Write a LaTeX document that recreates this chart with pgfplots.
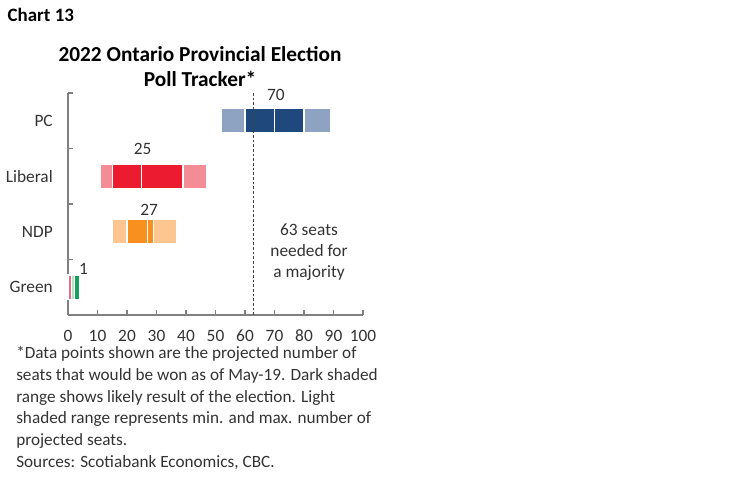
\documentclass[border=0pt]{standalone}
\usepackage{fontspec}
\setmainfont{Carlito}
\usepackage{pgfplots}
\pgfplotsset{compat=1.18}
\definecolor{pcdark}{HTML}{1F497D}
\definecolor{pclight}{HTML}{8EA3C1}
\definecolor{libdark}{HTML}{ED1B2F}
\definecolor{liblight}{HTML}{F48C95}
\definecolor{ndpdark}{HTML}{F7901E}
\definecolor{ndplight}{HTML}{FDC690}
\definecolor{grndark}{HTML}{17A05D}
\definecolor{grnlight}{HTML}{B7E0C8}
\definecolor{grnpink}{HTML}{E96A85}
\definecolor{axisgray}{HTML}{808080}
\definecolor{txt}{HTML}{333333}

\begin{document}
\begin{tikzpicture}[x=0.75pt,y=-0.75pt]
\path[use as bounding box] (0,0) rectangle (750,483);
\coordinate (O) at (68,315);

\node[anchor=west,font=\fontsize{14.2}{16}\selectfont\bfseries] at (3,15) {Chart 13};
\node[align=center,font=\fontsize{16}{18.75}\selectfont\bfseries] at (200,67)
  {2022 Ontario Provincial Election\\Poll Tracker*};

\begin{axis}[
    at={(O)}, anchor=south west,
    x=2.2125pt, y=41.625pt,
    xmin=0, xmax=100, ymin=-0.5, ymax=3.5,
    enlargelimits=false,
    clip=false,
    axis x line=bottom, axis y line=left,
    axis line style={-, draw=axisgray, line width=0.8pt},
    tick style={draw=axisgray, line width=0.8pt},
    tick align=inside,
    major tick length=3.75pt,
    xtick={0,10,...,100},
    ytick={-0.5,0.5,1.5,2.5,3.5},
    yticklabels={},
    extra y ticks={0,1,2,3},
    extra y tick labels={Green,NDP,Liberal,PC},
    extra y tick style={major tick length=0pt},
    yticklabel style={anchor=east, inner sep=0pt, xshift=-11.25pt},
    xticklabel style={anchor=north, inner sep=0pt, yshift=-11pt},
    ticklabel style={font=\fontsize{13}{14}\selectfont, text=txt},
    /pgf/number format/assume math mode=true,
    every axis plot/.append style={draw=white, line width=1pt, mark=none},
]
% PC: range 52-89, likely 60-80, projection 70
\addplot[fill=pclight] coordinates {(52,2.78) (60,2.78) (60,3.22) (52,3.22)} --cycle;
\addplot[fill=pcdark]  coordinates {(60,2.78) (70,2.78) (70,3.22) (60,3.22)} --cycle;
\addplot[fill=pcdark]  coordinates {(70,2.78) (80,2.78) (80,3.22) (70,3.22)} --cycle;
\addplot[fill=pclight] coordinates {(80,2.78) (89,2.78) (89,3.22) (80,3.22)} --cycle;
% Liberal: range 11-47, likely 15-39, projection 25
\addplot[fill=liblight] coordinates {(11,1.78) (15,1.78) (15,2.22) (11,2.22)} --cycle;
\addplot[fill=libdark]  coordinates {(15,1.78) (25,1.78) (25,2.22) (15,2.22)} --cycle;
\addplot[fill=libdark]  coordinates {(25,1.78) (39,1.78) (39,2.22) (25,2.22)} --cycle;
\addplot[fill=liblight] coordinates {(39,1.78) (47,1.78) (47,2.22) (39,2.22)} --cycle;
% NDP: range 15-37, likely 20-29, projection 27
\addplot[fill=ndplight] coordinates {(15,0.78) (20,0.78) (20,1.22) (15,1.22)} --cycle;
\addplot[fill=ndpdark]  coordinates {(20,0.78) (27,0.78) (27,1.22) (20,1.22)} --cycle;
\addplot[fill=ndpdark]  coordinates {(27,0.78) (29,0.78) (29,1.22) (27,1.22)} --cycle;
\addplot[fill=ndplight] coordinates {(29,0.78) (37,0.78) (37,1.22) (29,1.22)} --cycle;
% Green
\addplot[fill=grnpink]  coordinates {(0,-0.22) (1.2,-0.22) (1.2,0.22) (0,0.22)} --cycle;
\addplot[fill=grnlight] coordinates {(1.2,-0.22) (2.1,-0.22) (2.1,0.22) (1.2,0.22)} --cycle;
\addplot[fill=grndark]  coordinates {(2.1,-0.22) (4,-0.22) (4,0.22) (2.1,0.22)} --cycle;

% majority line
\addplot[draw=black!75, line width=0.7pt, dash pattern=on 2pt off 1.5pt]
  coordinates {(63,-0.5) (63,3.5)};

\node[font=\fontsize{13}{14}\selectfont, text=txt] at (axis cs:70.5,3.46) {70};
\node[font=\fontsize{13}{14}\selectfont, text=txt] at (axis cs:25.3,2.5) {25};
\node[font=\fontsize{13}{14}\selectfont, text=txt] at (axis cs:27.5,1.40) {27};
\node[font=\fontsize{13}{14}\selectfont, text=txt] at (axis cs:5.3,0.33) {1};
\node[align=center, font=\fontsize{13}{15.75}\selectfont, text=txt] at (axis cs:81.7,0.64)
  {63 seats\\needed for\\a majority};
\end{axis}

\node[anchor=north west, align=left, inner sep=0pt,
      font=\fontsize{12.9}{16.35}\selectfont, text=txt] at (16,346)
  {*Data points shown are the projected number of\\
   seats that would be won as of May-19. Dark shaded\\
   range shows likely result of the election. Light\\
   shaded range represents min. and max. number of\\
   projected seats.\\
   Sources: Scotiabank Economics, CBC.};
\end{tikzpicture}
\end{document}
